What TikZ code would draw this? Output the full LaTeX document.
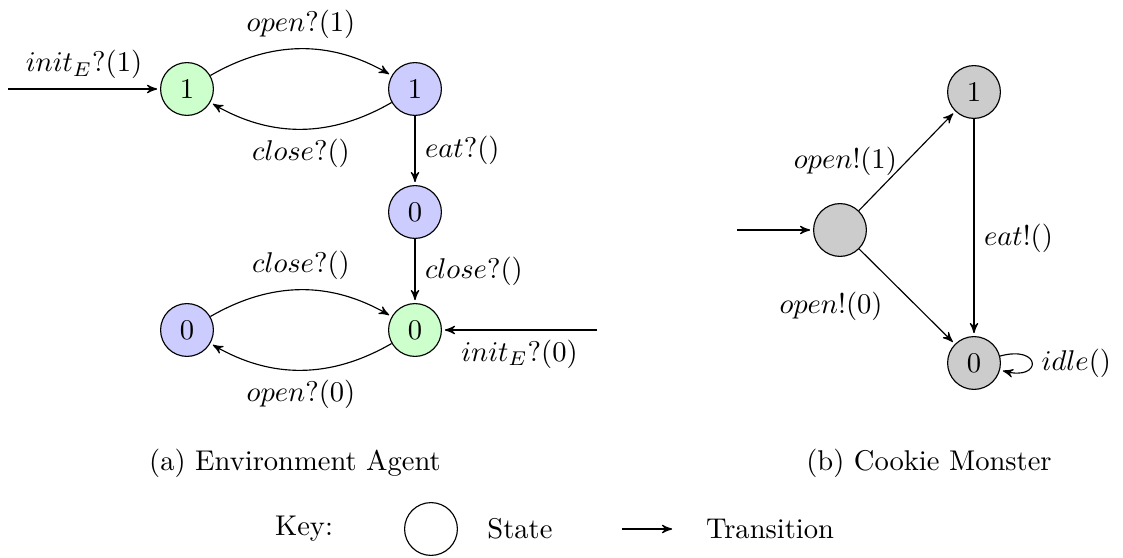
\documentclass[tikz,border=0pt]{standalone}
\usetikzlibrary{arrows,automata}

\begin{document}
\begin{tikzpicture}[x=0.1231cm, y=-0.1231cm, >=stealth', shorten >=1pt,
  st/.style={circle, draw, minimum size=18.5pt, inner sep=0pt},
  envon/.style={st, fill=green!20},
  envoff/.style={st, fill=blue!20},
  monster/.style={st, fill=black!20}]
\useasboundingbox (0,0) rectangle (112.3,55.7);
% environment agent
\node[envon] (e1) at (18.7,8.9) {$1$};
\node[envoff] (o1) at (41.5,8.9) {$1$};
\node[envoff] (a0) at (41.5,21.2) {$0$};
\node[envon] (e0) at (41.5,33.0) {$0$};
\node[envoff] (o0) at (18.7,33.0) {$0$};
\coordinate (in1) at (0.8,8.9);
\coordinate (in0) at (59.7,33.0);
\draw[->] (in1) -- node[above] {$init_E?(1)$} (e1);
\draw[->] (e1) to[bend left] node[above] {$open?(1)$} (o1);
\draw[->] (o1) to[bend left] node[below] {$close?()$} (e1);
\draw[->] (o1) -- node[right] {$eat?()$} (a0);
\draw[->] (a0) -- node[right] {$close?()$} (e0);
\draw[->] (o0) to[bend left] node[above] {$close?()$} (e0);
\draw[->] (e0) to[bend left] node[below] {$open?(0)$} (o0);
\draw[->] (in0) -- node[below] {$init_E?(0)$} (e0);
\node (capa) at (29.5,46.3) {(a) Environment Agent};
% cookie monster
\node[monster] (m) at (84.0,23.0) {};
\node[monster] (m1) at (97.4,9.2) {$1$};
\node[monster] (m0) at (97.4,36.3) {$0$};
\coordinate (inm) at (73.7,23.0);
\draw[->] (inm) -- (m);
\draw[->] (m) -- node[left] {$open!(1)$} (m1);
\draw[->] (m) -- node[below left, pos=0.35] {$open!(0)$} (m0);
\draw[->] (m1) -- node[right, pos=0.55] {$eat!()$} (m0);
\draw[->] (m0) edge[loop right] node[right] {$idle()$} (m0);
\node (capb) at (92.9,46.3) {(b) Cookie Monster};
% key
\node (key) at (30.4,52.9) {Key:};
\node[st] (kst) at (43.1,52.9) {};
\node (kstate) at (52.0,52.9) {State};
\coordinate (ka) at (62.2,52.9);
\coordinate (kb) at (67.5,52.9);
\draw[->] (ka) -- (kb);
\node (ktrans) at (77.0,52.9) {Transition};
\end{tikzpicture}
\end{document}
